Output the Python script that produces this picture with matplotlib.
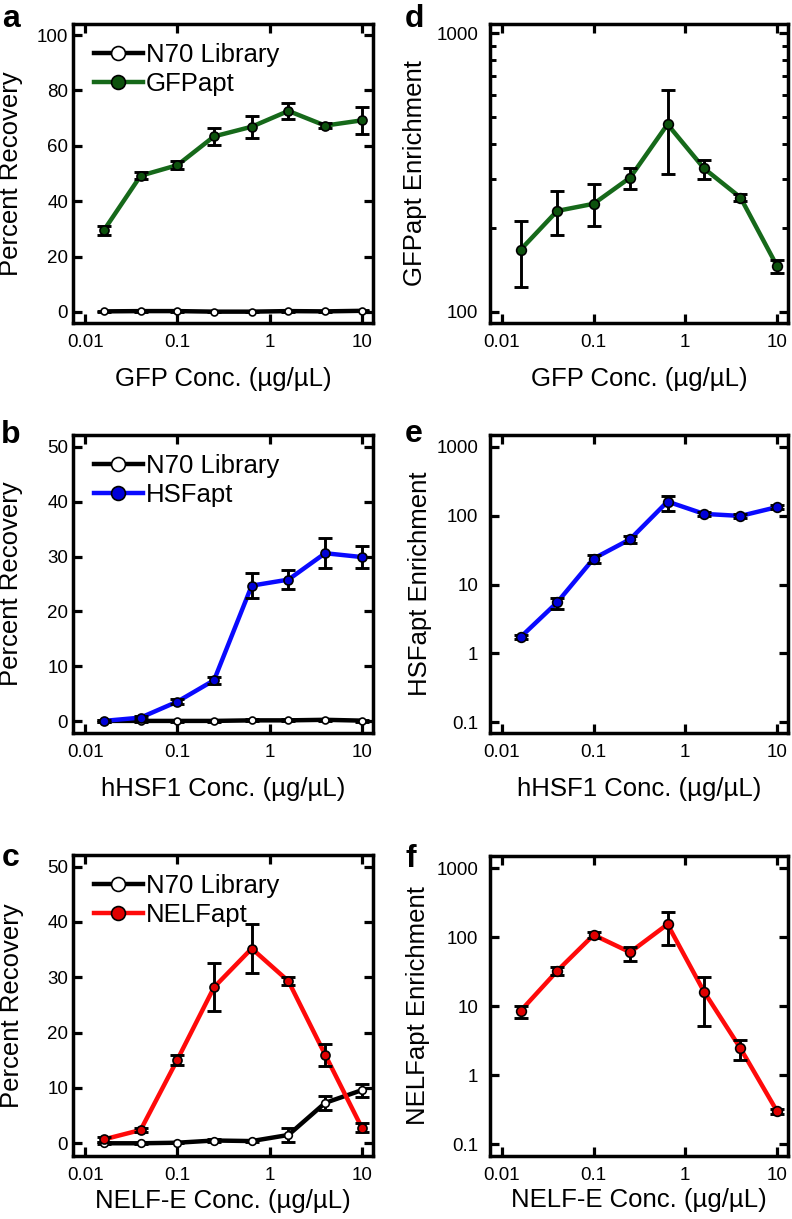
import numpy as np
import matplotlib
matplotlib.use("Agg")
import matplotlib.pyplot as plt
import matplotlib.ticker as ticker
from matplotlib.lines import Line2D

plt.rcParams["font.family"] = ["Liberation Sans", "DejaVu Sans"]

# ── Data ───────────────────────────────────────────────────────────────────────

conc = [0.016, 0.04, 0.1, 0.25, 0.64, 1.6, 4, 10]

# a: GFP recovery
n70_gfp_rec = [0.2, 0.3, 0.3, 0.1, 0.1, 0.3, 0.2, 0.4]
n70_gfp_err = [0.2, 0.2, 0.2, 0.2, 0.2, 0.2, 0.2, 0.2]
gfp_rec = [29.5, 49.2, 53.0, 63.4, 66.9, 72.6, 67.3, 69.2]
gfp_rec_err = [1.7, 1.3, 1.5, 3.1, 4.0, 3.0, 0.8, 4.9]

# b: HSF recovery
n70_hsf_rec = [0.1, 0.1, 0.1, 0.1, 0.2, 0.2, 0.3, 0.15]
n70_hsf_err = [0.2, 0.2, 0.2, 0.2, 0.2, 0.2, 0.2, 0.2]
hsf_rec = [0.1, 0.7, 3.6, 7.5, 24.7, 25.8, 30.6, 29.9]
hsf_rec_err = [0.2, 0.3, 0.5, 0.6, 2.3, 1.7, 2.7, 2.0]

# c: NELF recovery
n70_nelf_rec = [0.0, 0.0, 0.1, 0.5, 0.4, 1.5, 7.3, 9.6]
n70_nelf_err = [0.2, 0.1, 0.1, 0.2, 0.2, 1.2, 1.3, 1.2]
nelf_rec = [0.7, 2.4, 15.1, 28.2, 35.2, 29.3, 16.0, 2.8]
nelf_rec_err = [0.4, 0.4, 0.9, 4.3, 4.5, 0.7, 2.0, 0.8]

# d: GFPapt enrichment (value, lower, upper)
gfp_enr = [167, 230, 244, 303, 471, 327, 257, 146]
gfp_enr_lo = [123, 188, 203, 275, 313, 299, 249, 138]
gfp_enr_hi = [212, 272, 288, 327, 625, 351, 265, 153]

# e: HSFapt enrichment
hsf_enr = [1.73, 5.5, 23.8, 45.4, 160, 106, 99, 133]
hsf_enr_lo = [1.6, 4.4, 20.4, 39.8, 117, 100, 93, 124]
hsf_enr_hi = [1.85, 6.3, 26.9, 50.6, 195, 113, 106, 142]

# f: NELFapt enrichment
nelf_enr = [8.6, 32.5, 108, 60.6, 154, 16.3, 2.46, 0.304]
nelf_enr_lo = [6.7, 28.6, 98, 46, 77, 5.25, 1.67, 0.28]
nelf_enr_hi = [10.1, 36.6, 118, 73, 235, 26.9, 3.25, 0.33]

x_ticks = [0.01, 0.1, 1, 10]
x_tick_labels = ["0.01", "0.1", "1", "10"]

GREEN, GREEN_FACE = "#16691a", "#0d520d"
BLUE, BLUE_FACE = "#0a0aff", "#0000d8"
RED, RED_FACE = "#ff0a0a", "#e00000"

# ── Figure ─────────────────────────────────────────────────────────────────────

fig = plt.figure(figsize=(7.92, 12.19), dpi=100)
W, H = 792, 1219

def add_ax(left, top, right, bottom):
    return fig.add_axes([left / W, 1 - bottom / H, (right - left) / W, (bottom - top) / H])

ax_a = add_ax(73, 24, 373, 323)
ax_d = add_ax(490, 24, 788, 323)
ax_b = add_ax(73, 435, 373, 733)
ax_e = add_ax(490, 435, 788, 733)
ax_c = add_ax(73, 855, 373, 1156)
ax_f = add_ax(490, 856, 788, 1156)


def style(ax, ypad):
    ax.set_xscale("log")
    ax.set_xlim(0.0074, 13.2)
    ax.set_xticks(x_ticks)
    ax.set_xticklabels(x_tick_labels)
    ax.xaxis.set_minor_locator(ticker.NullLocator())
    for s in ax.spines.values():
        s.set_linewidth(2.5)
    ax.tick_params(which="major", direction="in", top=True, right=True,
                   length=6.5, width=2.3, labelsize=13.5)
    ax.tick_params(axis="x", pad=8)
    ax.tick_params(axis="y", pad=ypad)


def draw(ax, y, yerr, color, face, ms, zl=2):
    ax.plot(conc, y, color=color, lw=3.2, zorder=zl, solid_capstyle="round")
    ax.errorbar(conc, y, yerr=yerr, fmt="none", ecolor="black", elinewidth=2.1,
                capsize=5, capthick=2.1, zorder=zl + 0.5)
    ax.plot(conc, y, "o", ms=ms, mfc=face, mec="black", mew=1.2, zorder=zl + 0.7,
            linestyle="none")


def legend(ax, label, color, face):
    handles = [
        Line2D([], [], color="black", lw=3.2, marker="o", ms=10, mfc="white",
               mec="black", mew=1.2),
        Line2D([], [], color=color, lw=3.2, marker="o", ms=10, mfc=face,
               mec="black", mew=1.2),
    ]
    ax.legend(handles, ["N70 Library", label], loc="upper left", frameon=False,
              fontsize=18.5, handlelength=1.9, handletextpad=0.12,
              labelspacing=0.2, borderaxespad=0.0, bbox_to_anchor=(0.035, 0.97))


# a ─ GFP recovery
style(ax_a, 3.5)
draw(ax_a, n70_gfp_rec, n70_gfp_err, "black", "white", 5, zl=2)
draw(ax_a, gfp_rec, gfp_rec_err, GREEN, GREEN_FACE, 6.5, zl=4)
ax_a.set_ylim(-4, 104)
ax_a.set_yticks([0, 20, 40, 60, 80, 100])
ax_a.set_ylabel("Percent Recovery", fontsize=18.5)
ax_a.set_xlabel("GFP Conc. (µg/µL)", fontsize=18.5)
legend(ax_a, "GFPapt", GREEN, GREEN_FACE)

# b ─ HSF recovery
style(ax_b, 3.5)
draw(ax_b, n70_hsf_rec, n70_hsf_err, "black", "white", 5, zl=2)
draw(ax_b, hsf_rec, hsf_rec_err, BLUE, BLUE_FACE, 6.5, zl=4)
ax_b.set_ylim(-2.1, 52.1)
ax_b.set_yticks([0, 10, 20, 30, 40, 50])
ax_b.set_ylabel("Percent Recovery", fontsize=18.5)
ax_b.set_xlabel("hHSF1 Conc. (µg/µL)", fontsize=18.5)
legend(ax_b, "HSFapt", BLUE, BLUE_FACE)

# c ─ NELF recovery
style(ax_c, 3.5)
draw(ax_c, n70_nelf_rec, n70_nelf_err, "black", "white", 5.5, zl=2)
draw(ax_c, nelf_rec, nelf_rec_err, RED, RED_FACE, 6.5, zl=4)
ax_c.set_ylim(-2.3, 52.1)
ax_c.set_yticks([0, 10, 20, 30, 40, 50])
ax_c.set_ylabel("Percent Recovery", fontsize=18.5)
ax_c.set_xlabel("NELF-E Conc. (µg/µL)", fontsize=18.5)
legend(ax_c, "NELFapt", RED, RED_FACE)

# d/e/f ─ enrichment (log y)
for ax, y, lo, hi, color, face, ylab, xlab, ylim in [
    (ax_d, gfp_enr, gfp_enr_lo, gfp_enr_hi, GREEN, GREEN_FACE,
     "GFPapt Enrichment", "GFP Conc. (µg/µL)", (91, 1080)),
    (ax_e, hsf_enr, hsf_enr_lo, hsf_enr_hi, BLUE, BLUE_FACE,
     "HSFapt Enrichment", "hHSF1 Conc. (µg/µL)", (0.07, 1480)),
    (ax_f, nelf_enr, nelf_enr_lo, nelf_enr_hi, RED, RED_FACE,
     "NELFapt Enrichment", "NELF-E Conc. (µg/µL)", (0.068, 1500)),
]:
    style(ax, 8.5)
    ax.set_yscale("log")
    y = np.array(y, dtype=float)
    err = np.vstack([y - np.array(lo), np.array(hi) - y])
    draw(ax, y, err, color, face, 7, zl=3)
    ax.set_ylim(*ylim)
    ax.set_ylabel(ylab, fontsize=18.5)
    ax.set_xlabel(xlab, fontsize=18.5)
    ax.xaxis.set_minor_locator(ticker.NullLocator())
    ax.yaxis.set_major_formatter(ticker.FuncFormatter(lambda v, p: f"{v:g}"))

ax_d.set_yticks([100, 1000])
ax_d.yaxis.set_minor_locator(ticker.LogLocator(base=10, subs=np.arange(2, 10)))
ax_d.yaxis.set_minor_formatter(ticker.NullFormatter())
ax_d.tick_params(which="minor", axis="y", direction="in", left=True, right=True,
                 length=4, width=2.1)
ax_e.set_yticks([0.1, 1, 10, 100, 1000])
ax_f.set_yticks([0.1, 1, 10, 100, 1000])
for ax in (ax_e, ax_f):
    ax.yaxis.set_minor_locator(ticker.NullLocator())

# label positions
ax_a.yaxis.set_label_coords(-0.167, 0.5)
ax_b.yaxis.set_label_coords(-0.167, 0.5)
ax_c.yaxis.set_label_coords(-0.163, 0.5)
ax_d.yaxis.set_label_coords(-0.211, 0.5)
ax_e.yaxis.set_label_coords(-0.195, 0.5)
ax_f.yaxis.set_label_coords(-0.201, 0.5)
for ax in (ax_a, ax_d, ax_b, ax_e):
    ax.xaxis.set_label_coords(0.5, -0.147)
for ax in (ax_c, ax_f):
    ax.xaxis.set_label_coords(0.5, -0.108)

# panel letters
for letter, px, py in [("a", 2, 27), ("d", 405, 27), ("b", 1, 443),
                       ("e", 405, 442), ("c", 2, 866), ("f", 405, 867)]:
    fig.text(px / W, 1 - py / H, letter, fontsize=23, fontweight="bold",
             ha="left", va="baseline")

fig.savefig("out.png", dpi=100)
